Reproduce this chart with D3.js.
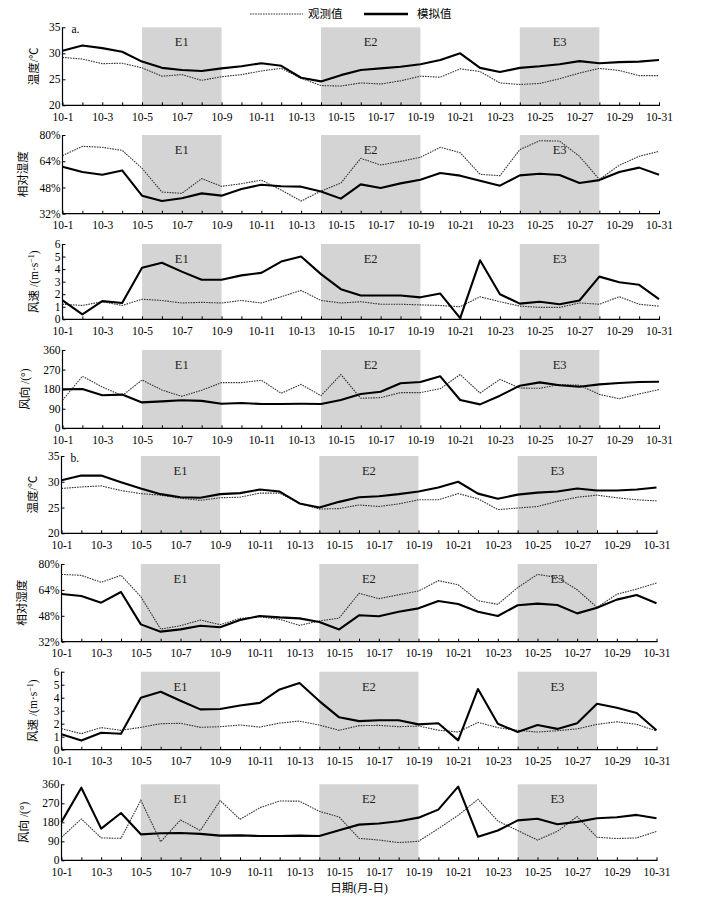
<!DOCTYPE html>
<html><head><meta charset="utf-8">
<script src="https://cdn.jsdelivr.net/npm/d3@7"></script>
<style>body{margin:0;background:#fff}</style>
</head><body><svg id="c" width="712" height="915"></svg>
<script>
// ---------- data ----------
const days = d3.range(1, 32);
const tickDays = d3.range(1, 32, 2);
const dayLabel = d => "10-" + d;
const events = [{name:"E1", start:5, end:9}, {name:"E2", start:14, end:19}, {name:"E3", start:24, end:28}];

const tempTicks = [20, 25, 30, 35];
const rhTicks = [32, 48, 64, 80];
const wsTicks = [0, 1, 2, 3, 4, 5, 6];
const wdTicks = [0, 90, 180, 270, 360];

// (a)
const aTempObs = [29.2,28.9,28.0,28.1,27.2,25.6,25.9,24.8,25.5,25.9,26.6,27.1,25.2,23.8,23.7,24.3,24.1,24.7,25.6,25.4,27.0,26.5,24.3,24.0,24.2,25.1,26.2,27.1,26.7,25.7,25.7];
const aTempSim = [30.5,31.5,31.0,30.3,28.4,27.2,26.8,26.6,27.1,27.5,28.1,27.6,25.3,24.6,25.8,26.8,27.1,27.4,27.9,28.7,30.0,27.2,26.4,27.2,27.5,27.9,28.5,28.1,28.3,28.4,28.7];
const aRhObs = [67.4,73.1,72.5,70.6,59.7,45.2,44.4,53.4,48.7,50.3,52.5,46.4,39.7,45.8,50.7,65.8,61.7,63.9,66.4,72.5,69.2,56.0,55.2,71.1,76.5,76.3,67.0,52.9,61.5,67.0,70.0];
const aRhSim = [60.7,57.4,55.8,58.4,43.0,39.7,41.4,44.4,43.0,47.1,49.7,48.7,48.5,45.6,41.2,49.9,47.7,50.5,52.7,56.8,55.2,52.1,49.1,55.4,56.4,55.6,50.7,52.5,57.4,60.1,55.8];
const aWsObs = [1.2,1.1,1.4,1.1,1.6,1.5,1.3,1.35,1.3,1.5,1.3,1.8,2.3,1.5,1.3,1.4,1.2,1.2,1.15,1.1,1.0,1.8,1.4,1.05,0.95,0.95,1.3,1.2,1.8,1.2,1.05];
const aWsSim = [1.5,0.4,1.45,1.3,4.1,4.5,3.8,3.15,3.15,3.5,3.7,4.6,5.0,3.6,2.4,1.9,1.9,1.9,1.75,2.05,0.1,4.7,2.0,1.25,1.4,1.2,1.5,3.4,2.95,2.75,1.6];
const aWdObs = [129,239,190,150,222,176,147,175,210,210,221,161,202,150,247,138,141,164,164,182,247,162,225,185,184,201,198,156,136,158,178];
const aWdSim = [179,181,152,155,119,124,129,126,113,116,112,112,113,112,130,158,168,207,213,239,130,110,150,196,211,198,191,202,208,213,214];
// (b)
const bTempObs = [28.7,29.0,29.2,28.3,27.7,27.4,26.8,26.4,26.9,27.0,27.8,27.8,25.8,24.7,24.8,25.5,25.2,25.7,26.5,26.5,27.7,26.7,24.6,24.9,25.2,26.2,27.0,27.4,26.9,26.5,26.3];
const bTempSim = [30.3,31.2,31.2,29.9,28.7,27.6,27.0,26.9,27.6,27.8,28.5,28.1,25.8,25.0,26.1,27.0,27.2,27.6,28.1,28.9,30.0,27.7,26.7,27.5,27.9,28.1,28.7,28.3,28.3,28.5,28.9];
const bRhObs = [73.6,73.0,68.7,73.0,59.8,39.8,41.9,45.4,42.5,46.4,47.4,45.8,42.1,44.8,46.6,61.9,58.6,61.0,63.3,69.7,67.2,57.3,55.1,65.4,73.6,71.6,64.1,53.2,61.3,64.5,68.3];
const bRhSim = [61.5,60.2,56.1,62.7,42.7,38.2,39.6,41.9,40.9,45.4,47.9,47.0,46.4,44.2,39.6,48.3,47.7,50.5,52.6,57.1,55.3,50.5,47.9,54.5,55.5,54.7,49.5,53.0,58.0,60.8,55.7];
const bWsObs = [1.62,1.23,1.7,1.49,1.72,2.0,2.03,1.72,1.77,1.9,1.74,2.05,2.2,1.9,1.49,1.85,1.87,1.77,1.82,1.5,1.36,2.1,1.7,1.49,1.36,1.46,1.6,1.95,2.15,1.95,1.44];
const bWsSim = [1.18,0.7,1.3,1.23,4.0,4.46,3.77,3.1,3.13,3.4,3.6,4.64,5.13,3.74,2.49,2.2,2.26,2.26,1.95,2.03,0.72,4.67,2.0,1.36,1.9,1.6,2.03,3.54,3.23,2.82,1.49];
const bWdObs = [109,196,106,104,284,88,191,141,283,194,249,281,280,232,205,104,96,84,90,150,213,289,186,141,96,137,207,109,103,106,137];
const bWdSim = [182,344,150,224,123,128,129,125,117,118,115,115,117,115,142,169,174,185,202,240,349,112,141,189,197,171,182,199,204,215,199];

// ---------- layout ----------
const svg = d3.select("#c");
svg.append("rect").attr("width",712).attr("height",915).attr("fill","#fff");
const serif = "'Liberation Serif','Times New Roman',serif";
const cjk = "'Liberation Serif','Noto Sans CJK SC',serif";

const xA = d3.scaleLinear().domain([1,31]).range([62.5,659]);
const xB = d3.scaleLinear().domain([1,31]).range([61.5,656.5]);

const panels = [
  {x:xA, top:27.3, bot:105.3, dom:[20,35], ticks:tempTicks, fmt:d=>d, obs:aTempObs, sim:aTempSim, label:"温度/℃", lx:38, tag:"a."},
  {x:xA, top:135, bot:213.7, dom:[32,80], ticks:rhTicks, fmt:d=>d+"%", obs:aRhObs, sim:aRhSim, label:"相对湿度", lx:27},
  {x:xA, top:244, bot:319.3, dom:[0,6], ticks:wsTicks, fmt:d=>d, obs:aWsObs, sim:aWsSim, label:"ws", lx:38},
  {x:xA, top:350, bot:428.3, dom:[0,360], ticks:wdTicks, fmt:d=>d, obs:aWdObs, sim:aWdSim, label:"风向 /(°)", lx:29},
  {x:xB, top:456, bot:533.3, dom:[20,35], ticks:tempTicks, fmt:d=>d, obs:bTempObs, sim:bTempSim, label:"温度/℃", lx:37, tag:"b."},
  {x:xB, top:564, bot:641.7, dom:[32,80], ticks:rhTicks, fmt:d=>d+"%", obs:bRhObs, sim:bRhSim, label:"相对湿度", lx:26},
  {x:xB, top:671.7, bot:749.7, dom:[0,6], ticks:wsTicks, fmt:d=>d, obs:bWsObs, sim:bWsSim, label:"ws", lx:37},
  {x:xB, top:784.3, bot:860.3, dom:[0,360], ticks:wdTicks, fmt:d=>d, obs:bWdObs, sim:bWdSim, label:"风向 /(°)", lx:28}
];

panels.forEach(p => {
  const x = p.x;
  const y = d3.scaleLinear().domain(p.dom).range([p.bot, p.top]);
  const g = svg.append("g");
  // shaded events
  events.forEach(e => {
    g.append("rect").attr("x", x(e.start)).attr("y", p.top)
      .attr("width", x(e.end) - x(e.start)).attr("height", p.bot - p.top)
      .attr("fill", "#d4d4d4");
    g.append("text").attr("x", (x(e.start)+x(e.end))/2).attr("y", p.top + 19)
      .attr("text-anchor","middle").attr("font-family", serif).attr("font-size", 12.5)
      .attr("fill","#222").text(e.name);
  });
  // x axis
  const xa = g.append("g").attr("transform", `translate(0,${p.bot})`)
    .call(d3.axisBottom(x).tickValues(days).tickSize(-3).tickFormat(d => tickDays.includes(d) ? dayLabel(d) : ""));
  xa.select(".domain").attr("d", `M${x(1)},0H${x(31)+1}`).attr("stroke","#000").attr("stroke-width",1.2);
  xa.selectAll(".tick line").attr("stroke","#000");
  xa.selectAll("text").attr("font-family", serif).attr("font-size", 11.5).attr("fill","#000").attr("dy","1.1em");
  // y axis
  const ya = g.append("g").attr("transform", `translate(${x(1)},0)`)
    .call(d3.axisLeft(y).tickValues(p.ticks).tickSize(-3).tickPadding(2).tickFormat(p.fmt));
  ya.select(".domain").attr("d", `M0,${p.top}V${p.bot}`).attr("stroke","#000").attr("stroke-width",1.2);
  ya.selectAll(".tick line").attr("stroke","#000");
  ya.selectAll("text").attr("font-family", serif).attr("font-size", 11.5).attr("fill","#000");
  // y label
  const cy = (p.top + p.bot)/2;
  const lt = g.append("text").attr("transform", `translate(${p.lx},${cy}) rotate(-90)`)
    .attr("text-anchor","middle").attr("font-family", cjk).attr("font-size", 11.5).attr("fill","#000");
  if (p.label === "ws") {
    lt.append("tspan").text("风速 /(m·s");
    lt.append("tspan").attr("dy", -4).attr("font-size", 8).text("−1");
    lt.append("tspan").attr("dy", 4).text(")");
  } else lt.text(p.label);
  if (p.tag) g.append("text").attr("x", x(1)+9).attr("y", p.top+6).attr("font-family", serif)
    .attr("font-size", 11.5).text(p.tag);
  // lines
  const line = d3.line().x((d,i) => x(days[i])).y(d => y(d));
  g.append("path").datum(p.obs).attr("d", line).attr("fill","none")
    .attr("stroke","#333").attr("stroke-width",1.1).attr("stroke-dasharray","1.6,1");
  g.append("path").datum(p.sim).attr("d", line).attr("fill","none")
    .attr("stroke","#000").attr("stroke-width",2.1).attr("stroke-linejoin","round");
});

// legend
const lg = svg.append("g");
lg.append("line").attr("x1",250).attr("x2",303).attr("y1",14).attr("y2",14)
  .attr("stroke","#333").attr("stroke-width",1.1).attr("stroke-dasharray","1.6,1");
lg.append("text").attr("x",308).attr("y",18).attr("font-family",cjk).attr("font-size",11.5).text("观测值");
lg.append("line").attr("x1",364).attr("x2",408).attr("y1",14).attr("y2",14)
  .attr("stroke","#000").attr("stroke-width",2.4);
lg.append("text").attr("x",417).attr("y",18).attr("font-family",cjk).attr("font-size",11.5).text("模拟值");

// x title
svg.append("text").attr("x", 359).attr("y", 892).attr("text-anchor","middle")
  .attr("font-family", cjk).attr("font-size", 11.5).text("日期(月-日)");
</script>
</body></html>
